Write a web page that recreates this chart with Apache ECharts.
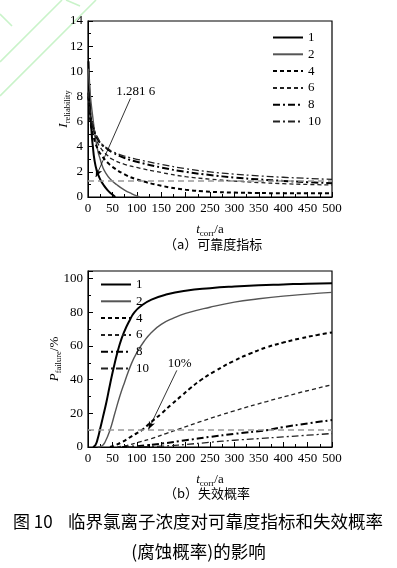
<!DOCTYPE html>
<html>
<head>
<meta charset="utf-8">
<script src="https://cdn.jsdelivr.net/npm/echarts@6/dist/echarts.min.js"></script>
<style>
  html, body { margin: 0; padding: 0; background: #fff; }
  #main { width: 397px; height: 568px; }
</style>
</head>
<body>
<div id="main"></div>
<script>
// ---- data ----
// (a) reliability index, x = t_corr / a
const tA1 = [1, 3, 5, 8, 10, 13, 18, 25, 32, 40, 48, 56];
const iA1 = [10.8, 8.3, 6.6, 4.8, 4.0, 3.0, 2.1, 1.4, 0.95, 0.55, 0.25, 0];
const tA2 = [1, 5, 10, 15, 20, 25, 30, 35, 45, 60, 75, 90, 100, 106];
const iA2 = [10.2, 8, 6.3, 4.8, 3.7, 3.0, 2.4, 2.0, 1.45, 0.95, 0.55, 0.25, 0.08, 0];
const tA = [1, 5, 10, 20, 30, 40, 50, 75, 100, 150, 200, 250, 300, 350, 400, 450, 500];
const iA4 = [8.0, 6.0, 5.0, 3.8, 3.2, 2.75, 2.4, 1.8, 1.4, 0.9, 0.58, 0.42, 0.35, 0.32, 0.3, 0.3, 0.3];
const iA6 = [8.2, 6.3, 5.4, 4.3, 3.7, 3.3, 3.0, 2.6, 2.35, 1.95, 1.62, 1.42, 1.27, 1.15, 1.06, 1.0, 0.95];
const iA8 = [8.3, 6.5, 5.6, 4.6, 4.1, 3.8, 3.55, 3.1, 2.8, 2.35, 2.0, 1.75, 1.55, 1.4, 1.28, 1.18, 1.1];
const iA10 = [8.4, 6.6, 5.7, 4.7, 4.15, 3.87, 3.62, 3.25, 3.0, 2.6, 2.25, 2.0, 1.82, 1.68, 1.57, 1.48, 1.4];
const refA = 1.2816;
const noteA = { text: "1.281 6", at: [98, 8.4], from: [87, 7.85], to: [16, 1.6] };

// (b) failure probability / %
const tB1 = [10, 15, 20, 25, 30, 38, 45, 55, 65, 75, 85, 95, 110, 130, 160, 200, 250, 300, 350, 400, 450, 500];
const pB1 = [0, 1, 5, 11, 17, 27, 37, 50, 61, 69, 75, 80, 84, 87.5, 90.5, 92.8, 94.3, 95.3, 96, 96.5, 97, 97.3];
const tB2 = [20, 28, 35, 45, 55, 65, 75, 89, 100, 115, 130, 150, 175, 200, 250, 300, 350, 400, 450, 500];
const pB2 = [0, 0.5, 3, 10, 20, 30, 38.5, 49.5, 56, 62.8, 68, 72.8, 76.5, 79.3, 83, 86, 88, 89.6, 90.8, 91.8];
const tB4 = [45, 55, 70, 90, 110, 130, 151, 170, 192, 210, 230, 260, 298, 330, 366, 400, 434, 470, 500];
const pB4 = [0, 1, 3, 6.5, 10, 15, 20, 25, 30.5, 35, 39.5, 45, 51, 55.2, 59.2, 62, 64.4, 66.5, 68];
const tB6 = [60, 80, 100, 130, 160, 190, 230, 300, 366, 430, 500];
const pB6 = [0, 1, 2.5, 5, 8, 11, 15, 21.5, 27, 32, 37];
const tB8 = [70, 100, 150, 200, 250, 300, 366, 400, 450, 500];
const pB8 = [0, 0.5, 2, 4, 6, 7.8, 10, 11.8, 14, 16];
const tB10 = [80, 150, 200, 250, 300, 350, 400, 450, 500];
const pB10 = [0, 0.5, 1.5, 2.8, 4, 5, 6, 7, 8];
const refB = 10;
const noteB = { text: "10%", at: [188, 49.7], from: [182, 45.5], to: [124, 10.5] };

const names = ["1", "2", "4", "6", "8", "10"];

const serif = "Liberation Serif";
const cjk = "Noto Sans CJK SC";

function pairs(ts, vs) {
  return ts.map((t, i) => [t, vs[i]]);
}

// line look per curve
const looks = {
  "1": { color: "#000", width: 2, type: "solid" },
  "2": { color: "#555", width: 1.4, type: "solid" },
  "4": { color: "#000", width: 2, type: [4, 3] },
  "6": { color: "#222", width: 1.3, type: [4, 3] },
  "8": { color: "#000", width: 2, type: [7, 3, 2, 3] },
  "10": { color: "#222", width: 1.3, type: [7, 3, 2, 3] },
};

function curve(name, data, idx) {
  const lk = looks[name];
  return {
    name: name,
    type: "line",
    xAxisIndex: idx,
    yAxisIndex: idx,
    data: data,
    symbol: "none",
    smooth: 0.5,
    silent: true,
    lineStyle: { color: lk.color, width: lk.width, type: lk.type },
    itemStyle: { color: lk.color },
  };
}

function notes(idx, ref, note) {
  return {
    type: "line",
    xAxisIndex: idx,
    yAxisIndex: idx,
    data: [],
    silent: true,
    markLine: {
      silent: true,
      animation: false,
      symbol: "none",
      label: { show: false },
      lineStyle: { color: "#999", width: 1.5, type: [6, 4] },
      data: [
        [{ coord: [0, ref] }, { coord: [500, ref] }],
        [
          { coord: note.from, lineStyle: { color: "#000", width: 0.8, type: "solid" } },
          { coord: note.to, symbol: "arrow", symbolSize: [5, 8] },
        ],
      ],
    },
    markPoint: {
      silent: true,
      animation: false,
      symbolSize: 0,
      data: [{ coord: note.at, value: note.text }],
      label: {
        show: true,
        position: "inside",
        formatter: note.text,
        color: "#000",
        fontFamily: serif,
        fontSize: 13,
      },
    },
  };
}

const tickStyle = {
  axisLine: { show: true, lineStyle: { color: "#000", width: 1 } },
  axisTick: { show: true, inside: true, length: 5, lineStyle: { color: "#000" } },
  minorTick: { show: true, splitNumber: 2, length: 3, lineStyle: { color: "#000" } },
  splitLine: { show: false },
  axisLabel: { color: "#000", fontFamily: serif, fontSize: 13, margin: 5 },
};

function xAxis(idx) {
  return Object.assign({}, tickStyle, {
    type: "value",
    gridIndex: idx,
    min: 0,
    max: 500,
    interval: 50,
    name: "{i|t}{s|corr}{n|/a}",
    nameLocation: "middle",
    nameGap: 24,
    nameTextStyle: {
      rich: {
        i: { fontFamily: serif, fontStyle: "italic", fontSize: 13, color: "#000" },
        s: { fontFamily: serif, fontSize: 9, color: "#000", padding: [8, 0, 0, 0] },
        n: { fontFamily: serif, fontSize: 13, color: "#000" },
      },
    },
  });
}

function yAxis(idx, max, interval, sym, sub, unit, gap) {
  return Object.assign({}, tickStyle, {
    type: "value",
    gridIndex: idx,
    min: 0,
    max: max,
    interval: interval,
    axisLabel: Object.assign({}, tickStyle.axisLabel, { showMaxLabel: max % interval === 0 }),
    name: "{i|" + sym + "}{s|" + sub + "}" + (unit ? "{n|" + unit + "}" : ""),
    nameLocation: "middle",
    nameRotate: 90,
    nameGap: gap,
    nameMoveOverlap: false,
    nameTextStyle: {
      rich: {
        i: { fontFamily: serif, fontStyle: "italic", fontSize: 13, color: "#000" },
        s: { fontFamily: serif, fontSize: 8.5, color: "#000", padding: [8, 0, 0, 0] },
        n: { fontFamily: serif, fontSize: 13, color: "#000" },
      },
    },
  });
}

function legend(left, top) {
  return {
    data: names,
    orient: "vertical",
    left: left,
    top: top,
    padding: 0,
    itemWidth: 30,
    itemHeight: 10,
    itemGap: 3.8,
    selectedMode: false,
    itemStyle: { opacity: 0 },
    textStyle: { color: "#000", fontFamily: serif, fontSize: 13 },
  };
}

const seriesA = [
  curve("1", pairs(tA1, iA1), 0),
  curve("2", pairs(tA2, iA2), 0),
  curve("4", pairs(tA, iA4), 0),
  curve("6", pairs(tA, iA6), 0),
  curve("8", pairs(tA, iA8), 0),
  curve("10", pairs(tA, iA10), 0),
  notes(0, refA, noteA),
];
const seriesB = [
  curve("1", pairs(tB1, pB1), 1),
  curve("2", pairs(tB2, pB2), 1),
  curve("4", pairs(tB4, pB4), 1),
  curve("6", pairs(tB6, pB6), 1),
  curve("8", pairs(tB8, pB8), 1),
  curve("10", pairs(tB10, pB10), 1),
  notes(1, refB, noteB),
];

const green = { stroke: "#c9f3c9", lineWidth: 1.6 };

const option = {
  animation: false,
  backgroundColor: "#fff",
  grid: [
    { left: 88, top: 21, width: 244, height: 176, show: true, borderColor: "#000", borderWidth: 1.2 },
    { left: 88, top: 271, width: 244, height: 176, show: true, borderColor: "#000", borderWidth: 1.2 },
  ],
  xAxis: [xAxis(0), xAxis(1)],
  yAxis: [
    yAxis(0, 14, 2, "I", "reliability", "", 16),
    yAxis(1, 104.5, 20, "P", "failure", "/%", 25),
  ],
  legend: [legend(272, 31), legend(100, 278)],
  series: seriesA.concat(seriesB),
  graphic: [
    { type: "line", z: -1, shape: { x1: 0, y1: 62, x2: 62, y2: 0 }, style: green },
    { type: "line", z: -1, shape: { x1: 0, y1: 96, x2: 96, y2: 0 }, style: green },
    { type: "line", z: -1, shape: { x1: 0, y1: 14, x2: 12, y2: 26 }, style: green },
    { type: "line", z: -1, shape: { x1: 66, y1: 0, x2: 80, y2: 6 }, style: green },
    {
      type: "text", left: 164, top: 238,
      style: { text: "（a）可靠度指标", font: "13px '" + cjk + "'", fill: "#000" },
    },
    {
      type: "text", left: 164, top: 487,
      style: { text: "（b）失效概率", font: "13px '" + cjk + "'", fill: "#000" },
    },
    {
      type: "text", left: 13, top: 513,
      style: { text: "图 10", font: "17px '" + cjk + "'", fill: "#000" },
    },
    {
      type: "text", left: 68, top: 513,
      style: { text: "临界氯离子浓度对可靠度指标和失效概率", font: "17.5px '" + cjk + "'", fill: "#000" },
    },
    {
      type: "text", left: "center", top: 543,
      style: { text: "(腐蚀概率)的影响", font: "17.5px '" + cjk + "'", fill: "#000" },
    },
  ],
};

var myChart = echarts.init(document.getElementById("main"));
option && myChart.setOption(option);
</script>
</body>
</html>
